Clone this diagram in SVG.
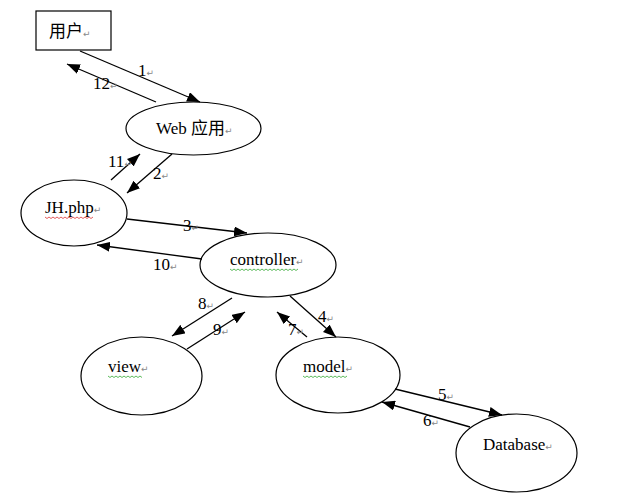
<svg xmlns="http://www.w3.org/2000/svg" width="620" height="496" viewBox="0 0 620 496">
<style>
.n{fill:#fff;stroke:#000;stroke-width:1.2}
.t{font-family:"Liberation Serif","Noto Sans CJK SC",serif;font-size:17px;fill:#000}
.r{font-family:"DejaVu Sans",sans-serif;font-size:9px;fill:#888}
.c line{stroke:#000;stroke-width:1.3;marker-end:url(#a)}
.sr{fill:none;stroke:#d33;stroke-width:0.8}
.sg{fill:none;stroke:#3a3;stroke-width:0.8}
</style>
<defs>
<marker id="a" markerUnits="userSpaceOnUse" markerWidth="13" markerHeight="10" refX="13" refY="5" orient="auto">
<path d="M0,0 L13,5 L0,10 z" fill="#000"/>
</marker>
</defs>
<rect width="620" height="496" fill="#fff"/>
<g id="user"><rect class="n" x="36" y="11" width="75" height="39"/><text class="t" x="49" y="37">用户<tspan class="r">↵</tspan></text></g>
<g id="web"><ellipse class="n" cx="193.5" cy="128.5" rx="67.5" ry="26.5"/><text class="t" x="156" y="134">Web 应用<tspan class="r">↵</tspan></text></g>
<g id="jhphp"><ellipse class="n" cx="74" cy="213" rx="53" ry="33"/><text class="t" x="45" y="213">JH.php<tspan class="r">↵</tspan></text><path class="sr" d="M45,217 l2,1.5 l2,-1.5 l2,1.5 l2,-1.5 l2,1.5 l2,-1.5 l2,1.5 l2,-1.5 l2,1.5 l2,-1.5 l2,1.5 l2,-1.5 l2,1.5 l2,-1.5 l2,1.5 l2,-1.5 l2,1.5 l2,-1.5 l2,1.5 l2,-1.5 l2,1.5 l2,-1.5 l2,1.5 l2,-1.5"/></g>
<g id="controller"><ellipse class="n" cx="268" cy="265" rx="68" ry="32"/><text class="t" x="230" y="265">controller<tspan class="r">↵</tspan></text><path class="sg" d="M230,269 l2,1.5 l2,-1.5 l2,1.5 l2,-1.5 l2,1.5 l2,-1.5 l2,1.5 l2,-1.5 l2,1.5 l2,-1.5 l2,1.5 l2,-1.5 l2,1.5 l2,-1.5 l2,1.5 l2,-1.5 l2,1.5 l2,-1.5 l2,1.5 l2,-1.5 l2,1.5 l2,-1.5 l2,1.5 l2,-1.5 l2,1.5 l2,-1.5 l2,1.5 l2,-1.5 l2,1.5 l2,-1.5 l2,1.5 l2,-1.5 l2,1.5 l2,-1.5"/></g>
<g id="view"><ellipse class="n" cx="141.5" cy="376" rx="60.5" ry="39"/><text class="t" x="108" y="372">view<tspan class="r">↵</tspan></text><path class="sg" d="M108,376 l2,1.5 l2,-1.5 l2,1.5 l2,-1.5 l2,1.5 l2,-1.5 l2,1.5 l2,-1.5 l2,1.5 l2,-1.5 l2,1.5 l2,-1.5 l2,1.5 l2,-1.5 l2,1.5 l2,-1.5 l2,1.5"/></g>
<g id="model"><ellipse class="n" cx="338" cy="375" rx="62" ry="38"/><text class="t" x="303" y="372">model<tspan class="r">↵</tspan></text><path class="sg" d="M303,376 l2,1.5 l2,-1.5 l2,1.5 l2,-1.5 l2,1.5 l2,-1.5 l2,1.5 l2,-1.5 l2,1.5 l2,-1.5 l2,1.5 l2,-1.5 l2,1.5 l2,-1.5 l2,1.5 l2,-1.5 l2,1.5 l2,-1.5 l2,1.5 l2,-1.5 l2,1.5 l2,-1.5"/></g>
<g id="database"><ellipse class="n" cx="516.5" cy="453" rx="60.5" ry="39"/><text class="t" x="483" y="450">Database<tspan class="r">↵</tspan></text></g>
<g id="connectors" class="c">
<line x1="80" y1="51" x2="200" y2="102"/>
<line x1="156" y1="102" x2="67" y2="64"/>
<line x1="172" y1="154" x2="127" y2="193"/>
<line x1="111" y1="180" x2="140" y2="154"/>
<line x1="127" y1="219" x2="247" y2="233"/>
<line x1="202" y1="259" x2="97" y2="245"/>
<line x1="290" y1="296" x2="336" y2="337"/>
<line x1="307" y1="337" x2="277" y2="312"/>
<line x1="232" y1="298" x2="172" y2="336"/>
<line x1="187" y1="349" x2="245" y2="312"/>
<line x1="395" y1="389" x2="502" y2="415"/>
<line x1="470" y1="427" x2="382" y2="402"/>
</g>
<g id="labels">
<text class="t" x="138" y="76">1<tspan class="r">↵</tspan></text>
<text class="t" x="93" y="89">12<tspan class="r">↵</tspan></text>
<text class="t" x="108" y="167">11<tspan class="r">↵</tspan></text>
<text class="t" x="153" y="179">2<tspan class="r">↵</tspan></text>
<text class="t" x="183" y="231">3<tspan class="r">↵</tspan></text>
<text class="t" x="153" y="270">10<tspan class="r">↵</tspan></text>
<text class="t" x="198" y="309">8<tspan class="r">↵</tspan></text>
<text class="t" x="318" y="322">4<tspan class="r">↵</tspan></text>
<text class="t" x="213" y="335">9<tspan class="r">↵</tspan></text>
<text class="t" x="288" y="335">7<tspan class="r">↵</tspan></text>
<text class="t" x="438" y="400">5<tspan class="r">↵</tspan></text>
<text class="t" x="423" y="426">6<tspan class="r">↵</tspan></text>
</g>
</svg>
